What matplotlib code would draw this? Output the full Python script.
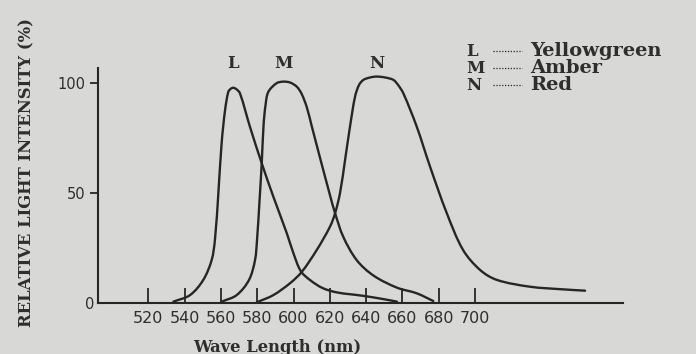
import matplotlib
matplotlib.use("Agg")
import matplotlib.pyplot as plt
from matplotlib.lines import Line2D
from matplotlib.path import Path
from matplotlib.patches import PathPatch
import numpy as np

# ---------------- data ----------------
wl_L = [533.8, 543.0, 550.3, 554.9, 556.7, 558.6, 560.4, 562.3, 564.1, 565.5, 566.8,
        568.5, 570.5, 576.0, 582.5, 588.9, 596.3, 600.0, 604.0, 609.0, 616.0, 624.0,
        638.0, 650.0, 657.0]
int_L = [0.6, 3.6, 10.5, 19.5, 28.6, 49.9, 72.6, 87.7, 96.0, 97.4, 97.8,
         97.2, 95.3, 80.1, 63.5, 48.3, 31.7, 22.5, 14.5, 10.5, 6.8, 4.8,
         3.3, 1.7, 0.6]

wl_M = [560.4, 568.7, 575.5, 578.8, 579.9, 581.3, 582.5, 583.5, 584.6, 586.1, 590.7,
        594.4, 598.1, 601.8, 604.5, 607.3, 610.0, 614.6, 620.1, 622.9, 627.4, 634.8,
        644.0, 656.9, 667.9, 677.0]
int_M = [0.6, 3.6, 10.5, 19.5, 28.6, 46.8, 63.6, 80.9, 90.0, 95.9, 99.9,
         100.6, 100.2, 98.3, 95.0, 89.0, 80.5, 66.0, 49.0, 40.8, 30.1, 19.5,
         12.5, 7.0, 4.4, 0.9]

wl_N = [579.7, 588.9, 598.1, 604.5, 612.8, 620.1, 622.9, 625.6, 628.4, 631.1, 633.9,
        636.1, 638.5, 642.2, 645.8, 650.4, 655.0, 657.6, 660.5, 667.9, 675.2, 684.4,
        693.4, 702.8, 712.0, 730.3, 748.5, 760.6]
int_N = [0.3, 3.6, 9.0, 14.1, 24.1, 34.7, 40.8, 49.9, 65.0, 80.1, 93.8,
         99.1, 101.4, 102.5, 102.9, 102.5, 101.4, 99.1, 95.3, 80.1, 62.0, 40.9,
         24.1, 15.0, 10.5, 7.4, 6.2, 5.6]

curve_ids = ["L", "M", "N"]
curve_names = ["Yellowgreen", "Amber", "Red"]
x_ticks = [520, 540, 560, 580, 600, 620, 640, 660, 680, 700]
x_tick_labels = ["520", "540", "560", "580", "600", "620", "640", "660", "680", "700"]
y_ticks = [50, 100]
y_tick_labels = ["50", "100"]
x_label = "Wave Length (nm)"
y_label = "RELATIVE LIGHT INTENSITY (%)"

# ---------------- style ----------------
BG = "#d8d8d6"
INK = "#262626"
TXT = "#2e2e2e"
W, H = 696, 354
XLIM = (492.3, 781.5)
YLIM = (0, 106.8)

fig = plt.figure(figsize=(W / 100, H / 100), dpi=100, facecolor=BG)
ax = fig.add_axes([98 / W, 1 - 303 / H, (623 - 98) / W, (303 - 68) / H], facecolor=BG)
ax.set_xlim(*XLIM)
ax.set_ylim(*YLIM)


def smooth_path(xs, ys):
    """Smooth curve passing through the read points (cubic Bezier segments,
    tangents estimated in screen-proportional units)."""
    xs = np.asarray(xs, float)
    ys = np.asarray(ys, float)
    sx = ax.bbox.width / (XLIM[1] - XLIM[0])
    sy = ax.bbox.height / (YLIM[1] - YLIM[0])
    P = np.column_stack([xs * sx, ys * sy])
    d = np.hypot(*np.diff(P, axis=0).T)
    n = len(P)
    T = np.zeros_like(P)
    T[0] = (P[1] - P[0]) / d[0]
    T[-1] = (P[-1] - P[-2]) / d[-1]
    for i in range(1, n - 1):
        T[i] = (P[i + 1] - P[i - 1]) / (d[i - 1] + d[i])
    verts = [P[0]]
    codes = [Path.MOVETO]
    for i in range(n - 1):
        verts += [P[i] + T[i] * d[i] / 3, P[i + 1] - T[i + 1] * d[i] / 3, P[i + 1]]
        codes += [Path.CURVE4] * 3
    V = np.array(verts)
    V[:, 0] /= sx
    V[:, 1] /= sy
    return Path(V, codes)


series = [(wl_L, int_L), (wl_M, int_M), (wl_N, int_N)]
for (wl, it), cid in zip(series, curve_ids):
    ax.add_patch(PathPatch(smooth_path(wl, it), facecolor="none", edgecolor=INK,
                           lw=1.7, joinstyle="round", capstyle="round",
                           transform=ax.transData, clip_on=False))
    k = int(np.argmax(it))
    ax.text(wl[k], 109, cid, ha="center", va="center", fontsize=12,
            family="DejaVu Serif", weight="bold", color=TXT)

for s in ("top", "right"):
    ax.spines[s].set_visible(False)
for s in ("left", "bottom"):
    ax.spines[s].set_color(INK)
    ax.spines[s].set_linewidth(1.5)

ax.set_xticks(x_ticks)
ax.set_xticklabels(x_tick_labels)
ax.tick_params(axis="x", direction="in", length=10.5, width=1.3, pad=6,
               labelsize=11.5, colors=INK, labelcolor=TXT)
ax.set_yticks(y_ticks)
ax.set_yticklabels(y_tick_labels)
ax.tick_params(axis="y", direction="out", length=6, width=1.3, pad=3,
               labelsize=10.5, colors=INK, labelcolor=TXT)
for lab in ax.get_xticklabels() + ax.get_yticklabels():
    lab.set_family("DejaVu Sans")

ax.annotate("0", xy=(XLIM[0], 0), xycoords="data", xytext=(-2.5, -0.8),
            textcoords="offset points", ha="right", va="center",
            fontsize=10.5, color=TXT, family="DejaVu Sans")

fig.text(27 / W, 1 - 173 / H, y_label, rotation=90, ha="center", va="center",
         fontsize=11.8, family="DejaVu Serif", weight="bold", color=TXT)
fig.text(277 / W, 1 - 347 / H, x_label, ha="center", va="center",
         fontsize=11.8, family="DejaVu Serif", weight="bold", color=TXT)

# legend-like annotation
base_y = [56, 73, 90]
for cid, name, by in zip(curve_ids, curve_names, base_y):
    fig.text(466 / W, 1 - by / H, cid, ha="left", va="baseline", fontsize=12,
             family="DejaVu Serif", weight="bold", color=TXT)
    fig.add_artist(Line2D([493 / W, 522 / W], [1 - (by - 5) / H] * 2,
                          transform=fig.transFigure, color=INK, lw=0.9,
                          linestyle=(0, (1, 1.3))))
    fig.text(530 / W, 1 - by / H, name, ha="left", va="baseline", fontsize=14,
             family="DejaVu Serif", weight="bold", color=TXT)

fig.savefig("out.png", dpi=100, facecolor=BG)
